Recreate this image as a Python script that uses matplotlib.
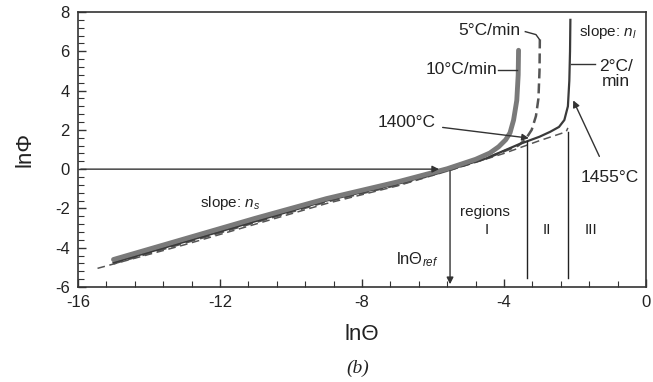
import matplotlib
matplotlib.use("Agg")
import matplotlib.pyplot as plt
from matplotlib.ticker import MultipleLocator

plt.rcParams['font.family'] = ['Liberation Sans', 'DejaVu Sans']
plt.rcParams['mathtext.fontset'] = 'custom'
plt.rcParams['mathtext.rm'] = 'Liberation Sans'
plt.rcParams['mathtext.it'] = 'Liberation Sans:italic'
plt.rcParams['axes.unicode_minus'] = False

# curves (lnTheta, lnPhi)
x10 = [-15.0, -13.0, -11.0, -9.0, -7.0, -5.6, -4.8, -4.4, -4.15, -3.95, -3.83, -3.73, -3.64, -3.6, -3.59]
y10 = [-4.6, -3.55, -2.5, -1.5, -0.65, 0.02, 0.5, 0.82, 1.14, 1.5, 1.85, 2.5, 3.5, 4.8, 6.05]

x5 = [-15.0, -13.0, -11.0, -9.0, -7.0, -5.5, -4.5, -3.6, -3.4, -3.22, -3.1, -3.03, -3.0, -2.99]
y5 = [-4.8, -3.75, -2.7, -1.65, -0.8, -0.02, 0.55, 1.2, 1.5, 2.0, 2.7, 3.6, 5.0, 6.6]

x2 = [-15.0, -13.0, -11.0, -9.0, -7.0, -5.5, -4.5, -3.6, -3.0, -2.7, -2.45, -2.3, -2.2, -2.16, -2.14, -2.13]
y2 = [-4.75, -3.7, -2.65, -1.6, -0.75, 0.0, 0.55, 1.25, 1.65, 1.9, 2.15, 2.5, 3.2, 4.5, 6.0, 7.6]

xfit = [-15.45, -13.0, -11.0, -9.0, -7.0, -5.5, -4.0, -3.0, -2.5, -2.25, -2.2]
yfit = [-5.05, -3.85, -2.8, -1.75, -0.85, -0.05, 0.8, 1.45, 1.75, 1.9, 2.1]

theta_ref = -5.52
bounds = [-3.36, -2.19]
bound_tops = [1.45, 1.9]

fig = plt.figure(figsize=(6.53, 3.82), dpi=100)
ax = fig.add_axes([78/653, 1-287/382, 568/653, 275/382])

ax.plot(xfit, yfit, color='#555555', lw=1.1, ls=(0, (5, 3)))
ax.plot(x5, y5, color='#555555', lw=1.8, ls=(0, (4, 2)))
ax.plot(x2, y2, color='#3a3a3a', lw=1.6)
ax.plot(x10, y10, color='#7a7a7a', lw=3.5, solid_capstyle='round')

# reference lines
ax.annotate('', xy=(-5.75, 0), xytext=(-16, 0),
            arrowprops=dict(arrowstyle='-|>', color='#333333', lw=1.0, mutation_scale=10))
ax.annotate('', xy=(theta_ref, -6), xytext=(theta_ref, 0.05),
            arrowprops=dict(arrowstyle='-|>', color='#333333', lw=1.0, mutation_scale=10))
for xb, yt in zip(bounds, bound_tops):
    ax.plot([xb, xb], [-5.55, yt], color='#222222', lw=1.0)

# labels
fs = 12.5
ax.text(-4.42, 7.08, '5°C/min', fontsize=fs, ha='center', va='center', color='#222222')
ax.plot([-3.4, -3.1, -3.0], [7.0, 6.85, 6.6], color='#333333', lw=1.0)
ax.text(-4.2, 5.05, '10°C/min', fontsize=fs, ha='right', va='center', color='#222222')
ax.plot([-4.18, -3.62], [5.05, 5.05], color='#333333', lw=1.0)
ax.text(-0.84, 4.85, '2°C/\nmin', fontsize=fs, ha='center', va='center', color='#222222', linespacing=0.95)
ax.plot([-2.1, -1.45], [5.35, 5.35], color='#333333', lw=1.0)
ax.text(-1.9, 6.98, 'slope: $n_l$', fontsize=11, ha='left', va='center', color='#222222')
ax.text(-11.7, -1.73, 'slope: $n_s$', fontsize=11, ha='center', va='center', color='#222222')

ax.annotate('1400°C', xy=(-3.3, 1.58), xytext=(-6.74, 2.35), fontsize=fs, ha='center', va='center',
            color='#222222',
            arrowprops=dict(arrowstyle='-|>', color='#333333', lw=1.0, mutation_scale=10, shrinkA=3, shrinkB=0))
ax.annotate('1455°C', xy=(-2.05, 3.5), xytext=(-1.03, -0.45), fontsize=fs, ha='center', va='center',
            color='#222222',
            arrowprops=dict(arrowstyle='-|>', color='#333333', lw=1.0, mutation_scale=10, shrinkA=9, shrinkB=0))

ax.text(-4.53, -2.18, 'regions', fontsize=11, ha='center', va='center', color='#222222')
ax.text(-4.48, -3.1, 'I', fontsize=11, ha='center', va='center', color='#222222')
ax.text(-2.8, -3.1, 'II', fontsize=11, ha='center', va='center', color='#222222')
ax.text(-1.54, -3.1, 'III', fontsize=11, ha='center', va='center', color='#222222')
ax.text(-6.43, -4.63, 'lnΘ$_{ref}$', fontsize=12, ha='center', va='center', color='#222222')

ax.set_xlim(-16, 0)
ax.set_ylim(-6, 8)
ax.xaxis.set_major_locator(MultipleLocator(4))
ax.xaxis.set_minor_locator(MultipleLocator(0.8))
ax.yaxis.set_major_locator(MultipleLocator(2))
ax.yaxis.set_minor_locator(MultipleLocator(0.4))
ax.tick_params(which='both', direction='in', top=False, right=False, colors='#333333',
               labelcolor='#222222', labelsize=12)
ax.tick_params(which='major', length=6, width=1.0, pad=6)
ax.tick_params(which='minor', length=4, width=0.8)
for s in ax.spines.values():
    s.set_color('#333333')
    s.set_linewidth(1.2)

ax.set_xlabel('lnΘ', fontsize=16, color='#222222', labelpad=10)
ax.set_ylabel('lnΦ', fontsize=16, color='#222222', labelpad=14)
fig.text(358/653, 1-368/382, '(b)', fontsize=14, ha='center', va='center',
         family='Liberation Serif', style='italic', color='#222222')

fig.savefig('out.png', dpi=100)
